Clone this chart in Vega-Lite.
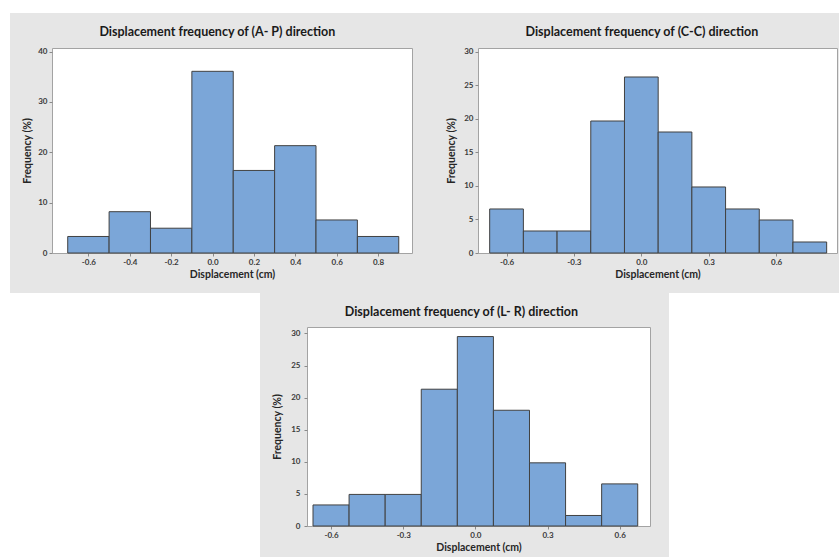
{
  "$schema": "https://vega.github.io/schema/vega-lite/v6.json",
  "background": "#e6e6e6",
  "padding": 0,
  "autosize": {"type": "pad"},
  "datasets": {
    "ap": [
      {"start": -0.7, "end": -0.5, "freq": 3.28},
      {"start": -0.5, "end": -0.3, "freq": 8.2},
      {"start": -0.3, "end": -0.1, "freq": 4.92},
      {"start": -0.1, "end": 0.1, "freq": 36.07},
      {"start": 0.1, "end": 0.3, "freq": 16.39},
      {"start": 0.3, "end": 0.5, "freq": 21.31},
      {"start": 0.5, "end": 0.7, "freq": 6.56},
      {"start": 0.7, "end": 0.9, "freq": 3.28}
    ],
    "cc": [
      {"start": -0.675, "end": -0.525, "freq": 6.56},
      {"start": -0.525, "end": -0.375, "freq": 3.28},
      {"start": -0.375, "end": -0.225, "freq": 3.28},
      {"start": -0.225, "end": -0.075, "freq": 19.67},
      {"start": -0.075, "end": 0.075, "freq": 26.23},
      {"start": 0.075, "end": 0.225, "freq": 18.03},
      {"start": 0.225, "end": 0.375, "freq": 9.84},
      {"start": 0.375, "end": 0.525, "freq": 6.56},
      {"start": 0.525, "end": 0.675, "freq": 4.92},
      {"start": 0.675, "end": 0.825, "freq": 1.64}
    ],
    "lr": [
      {"start": -0.675, "end": -0.525, "freq": 3.28},
      {"start": -0.525, "end": -0.375, "freq": 4.92},
      {"start": -0.375, "end": -0.225, "freq": 4.92},
      {"start": -0.225, "end": -0.075, "freq": 21.31},
      {"start": -0.075, "end": 0.075, "freq": 29.51},
      {"start": 0.075, "end": 0.225, "freq": 18.03},
      {"start": 0.225, "end": 0.375, "freq": 9.84},
      {"start": 0.375, "end": 0.525, "freq": 1.64},
      {"start": 0.525, "end": 0.675, "freq": 6.56}
    ],
    "blank": []
  },
  "config": {
    "font": "Lato",
    "view": {"fill": "white", "stroke": "#a3a3a3", "strokeWidth": 1},
    "axis": {
      "domain": false,
      "grid": false,
      "tickColor": "#8a8a8a",
      "tickSize": 3,
      "labelFont": "Lato",
      "labelFontSize": 8,
      "labelFontWeight": "bold",
      "labelColor": "#3a3a3a",
      "labelPadding": 2,
      "titleFont": "Lato",
      "titleFontSize": 10.5,
      "titleFontWeight": "bold",
      "titleColor": "#262626"
    },
    "axisX": {"titlePadding": 3},
    "axisY": {"titlePadding": 5},
    "title": {"font": "Lato", "fontSize": 12.5, "fontWeight": "bold", "color": "#1a1a1a", "frame": "bounds", "anchor": "middle", "offset": 9},
    "bar": {"fill": "#7ba6d8", "stroke": "#414141", "strokeWidth": 1}
  },
  "spacing": 0,
  "vconcat": [
    {"data": {"name": "blank"}, "mark": "rect", "encoding": {}, "width": 839, "height": 13, "view": {"fill": "white", "stroke": null}},
    {
      "spacing": 33,
      "hconcat": [
        {
          "spacing": 12,
          "hconcat": [
            {"data": {"name": "blank"}, "mark": "rect", "encoding": {}, "width": 10, "height": 280, "view": {"fill": "white", "stroke": null}},
            {
              "spacing": 0,
              "vconcat": [
                {"data": {"name": "blank"}, "mark": "rect", "encoding": {}, "width": 10, "height": 12, "view": {"fill": "#e6e6e6", "stroke": null}},
                {
                  "data": {"name": "ap"},
                  "width": 360,
                  "height": 205,
                  "title": {"text": "Displacement frequency of (A- P) direction"},
                  "mark": "bar",
                  "encoding": {
                    "x": {"field": "start", "type": "quantitative", "scale": {"domain": [-0.776, 0.964], "nice": false, "zero": false},
                          "axis": {"values": [-0.6, -0.4, -0.2, 0, 0.2, 0.4, 0.6, 0.8], "labelExpr": "replace(format(datum.value, '.1f'), '\u2212', '-')", "title": "Displacement (cm)"}},
                    "x2": {"field": "end"},
                    "y": {"field": "freq", "type": "quantitative", "scale": {"domain": [0, 40.7], "nice": false},
                          "axis": {"values": [0, 10, 20, 30, 40], "title": "Frequency (%)"}},
                    "y2": {"datum": 0}
                  }
                }
              ]
            }
          ]
        },
        {
          "spacing": 0,
          "vconcat": [
            {"data": {"name": "blank"}, "mark": "rect", "encoding": {}, "width": 10, "height": 12, "view": {"fill": "#e6e6e6", "stroke": null}},
            {
              "data": {"name": "cc"},
              "width": 359,
              "height": 205,
              "title": {"text": "Displacement frequency of (C-C) direction"},
              "mark": "bar",
              "encoding": {
                "x": {"field": "start", "type": "quantitative", "scale": {"domain": [-0.727, 0.871], "nice": false, "zero": false},
                      "axis": {"values": [-0.6, -0.3, 0, 0.3, 0.6], "labelExpr": "replace(format(datum.value, '.1f'), '\u2212', '-')", "title": "Displacement (cm)"}},
                "x2": {"field": "end"},
                "y": {"field": "freq", "type": "quantitative", "scale": {"domain": [0, 30.55], "nice": false},
                      "axis": {"values": [0, 5, 10, 15, 20, 25, 30], "title": "Frequency (%)", "titlePadding": 7}},
                "y2": {"datum": 0}
              }
            }
          ]
        }
      ]
    },
    {
      "spacing": 18,
      "hconcat": [
        {
          "spacing": 12,
          "hconcat": [
            {"data": {"name": "blank"}, "mark": "rect", "encoding": {}, "width": 260, "height": 264, "view": {"fill": "white", "stroke": null}},
            {
              "spacing": 0,
              "vconcat": [
                {"data": {"name": "blank"}, "mark": "rect", "encoding": {}, "width": 10, "height": 12, "view": {"fill": "#e6e6e6", "stroke": null}},
                {
                  "data": {"name": "lr"},
                  "width": 343,
                  "height": 199,
                  "title": {"text": "Displacement frequency of (L- R) direction"},
                  "mark": "bar",
                  "encoding": {
                    "x": {"field": "start", "type": "quantitative", "scale": {"domain": [-0.7, 0.726], "nice": false, "zero": false},
                          "axis": {"values": [-0.6, -0.3, 0, 0.3, 0.6], "labelExpr": "replace(format(datum.value, '.1f'), '\u2212', '-')", "title": "Displacement (cm)"}},
                    "x2": {"field": "end"},
                    "y": {"field": "freq", "type": "quantitative", "scale": {"domain": [0, 31.0], "nice": false},
                          "axis": {"values": [0, 5, 10, 15, 20, 25, 30], "title": "Frequency (%)", "labelPadding": 4, "titlePadding": 8}},
                    "y2": {"datum": 0}
                  }
                }
              ]
            }
          ]
        },
        {"data": {"name": "blank"}, "mark": "rect", "encoding": {}, "width": 172, "height": 264, "view": {"fill": "white", "stroke": null}}
      ]
    }
  ]
}
